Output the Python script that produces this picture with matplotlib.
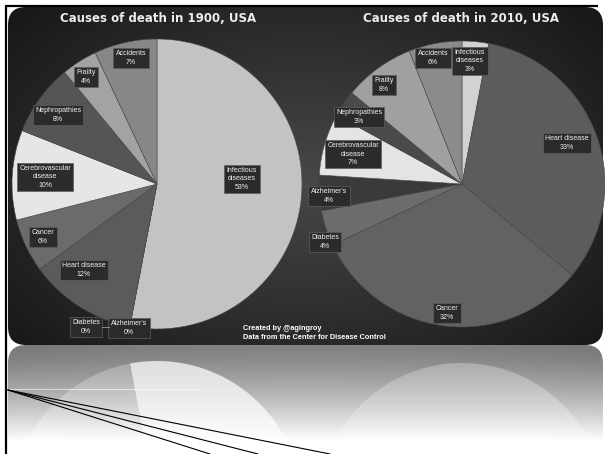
import numpy as np
import matplotlib
matplotlib.use('Agg')
import matplotlib.pyplot as plt
from matplotlib.patches import FancyBboxPatch

# --- data ---
causes_1900 = ['Infectious\ndiseases', "Alzheimer's", 'Diabetes', 'Heart disease', 'Cancer',
               'Cerebrovascular\ndisease', 'Nephropathies', 'Frailty', 'Accidents']
share_1900 = [53, 0, 0, 12, 6, 10, 8, 4, 7]

causes_2010 = ['Infectious\ndiseases', 'Heart disease', 'Cancer', 'Diabetes', "Alzheimer's",
               'Cerebrovascular\ndisease', 'Nephropathies', 'Frailty', 'Accidents']
share_2010 = [3, 33, 32, 4, 4, 7, 3, 8, 6]

titles = ['Causes of death in 1900, USA', 'Causes of death in 2010, USA']
credit = 'Created by @agingroy\nData from the Center for Disease Control'

# --- styling / layout ---
W, H = 605, 454
colors_1900 = ['#c3c3c3', '#6a6a6a', '#6a6a6a', '#5b5b5b', '#6b6b6b',
               '#e6e6e6', '#555555', '#a3a3a3', '#878787']
colors_2010 = ['#d2d2d2', '#5c5c5c', '#626262', '#6c6c6c', '#3a3a3a',
               '#e4e4e4', '#4a4a4a', '#a0a0a0', '#8b8b8b']

label_pos_1900 = {'Infectious\ndiseases': (242, 179), "Alzheimer's": (129, 328), 'Diabetes': (86, 327),
                  'Heart disease': (84, 270), 'Cancer': (43, 237), 'Cerebrovascular\ndisease': (45, 177),
                  'Nephropathies': (58, 115), 'Frailty': (86, 77), 'Accidents': (131, 58)}
label_pos_2010 = {'Infectious\ndiseases': (470, 61), 'Heart disease': (567, 143), 'Cancer': (447, 313),
                  'Diabetes': (325, 242), "Alzheimer's": (329, 196), 'Cerebrovascular\ndisease': (353, 154),
                  'Nephropathies': (359, 117), 'Frailty': (384, 85), 'Accidents': (433, 58)}

pies = [
    (share_1900, causes_1900, colors_1900, label_pos_1900, (157, 184), 145),
    (share_2010, causes_2010, colors_2010, label_pos_2010, (462, 184), 143),
]
mirror_y = 345

fig = plt.figure(figsize=(W / 100, H / 100), dpi=100)
fig.patch.set_facecolor('white')
ax = fig.add_axes([0, 0, 1, 1])

# panel and its reflection
panel = FancyBboxPatch((8, 7), 595, mirror_y - 7, boxstyle='round,pad=0,rounding_size=18',
                       fc='none', ec='none', transform=ax.transData)
refl = FancyBboxPatch((8, mirror_y), 595, 150, boxstyle='round,pad=0,rounding_size=18',
                      fc='none', ec='none', transform=ax.transData)
ax.add_patch(panel)
ax.add_patch(refl)

yy, xx = np.mgrid[0:H, 0:W] + 0.5
yy_src = np.where(yy > mirror_y, 2 * mirror_y - yy, yy)
d = np.sqrt(((xx - 305) / 330) ** 2 + ((yy_src - 180) / 220) ** 2)
shade = np.clip(0.28 - 0.16 * d, 0.09, 1)
bg = np.dstack([shade, shade, shade])
im1 = ax.imshow(bg, extent=(0, W, H, 0), origin='upper', zorder=1, interpolation='bilinear')
im1.set_clip_path(panel)
im2 = ax.imshow(bg, extent=(0, W, H, 0), origin='upper', zorder=1, interpolation='bilinear')
im2.set_clip_path(refl)

for vals, names, cols, lpos, c, r in pies:
    # main pie (screen clockwise from 12 o'clock, y axis is inverted)
    wedges, _ = ax.pie(vals, colors=cols, center=c, radius=r, startangle=-90, counterclock=True,
                       wedgeprops=dict(lw=0.4, ec='#4a4a4a'))
    for w in wedges:
        w.set_zorder(2)
        w.set_clip_path(panel)
    # reflection
    wedges_r, _ = ax.pie(vals, colors=cols, center=(c[0], 2 * mirror_y - c[1]), radius=r,
                         startangle=90, counterclock=False, wedgeprops=dict(lw=0))
    for w in wedges_r:
        w.set_zorder(2)
        w.set_clip_path(refl)
    for name, v in zip(names, vals):
        x, y = lpos[name]
        ax.text(x, y, f'{name}\n{v}%', ha='center', va='center', fontsize=5,
                family='Liberation Sans', color='#f0f0f0', linespacing=1.25, zorder=5,
                bbox=dict(boxstyle='square,pad=0.35', fc='#2b2b2b', ec='#5e5e5e', lw=0.5))

# small connector between the two 0% labels
ax.plot([102, 109], [327, 327], color='#9a9a9a', lw=0.6, zorder=5)

# fade the reflection to white
t = np.clip((yy - mirror_y) / 95, 0, 1)
fade = np.zeros((H, W, 4))
fade[..., :3] = 1.0
fade[..., 3] = np.where(yy > mirror_y, 0.42 + 0.58 * t ** 1.4, 0)
ax.imshow(fade, extent=(0, W, H, 0), origin='upper', zorder=3, interpolation='bilinear')
ax.plot([8, 200], [389, 389], color='white', lw=0.6, alpha=0.7, zorder=4)

# titles and credit
for txt, c in zip(titles, [(158, 18), (461, 18)]):
    ax.text(c[0], c[1], txt, ha='center', va='center', fontsize=8.5, fontweight='bold',
            family='DejaVu Sans', color='#ececec', zorder=5)
ax.text(243, 333, credit, ha='left', va='center', fontsize=5.3, fontweight='bold',
        family='Liberation Sans', color='white', linespacing=1.3, zorder=5)

# black frame lines and stray strokes
ax.plot([5.5, 598], [5.5, 5.5], color='black', lw=1.6, zorder=6, solid_capstyle='butt')
ax.plot([5.5, 5.5], [5, H], color='black', lw=1.6, zorder=6, solid_capstyle='butt')
for end_x in [210, 258, 330]:
    ax.plot([8, end_x], [390, H], color='black', lw=0.8, zorder=6)

ax.set_xlim(0, W)
ax.set_ylim(H, 0)
ax.set_aspect('auto')
ax.axis('off')

fig.savefig('out.png', dpi=100, facecolor='white')
